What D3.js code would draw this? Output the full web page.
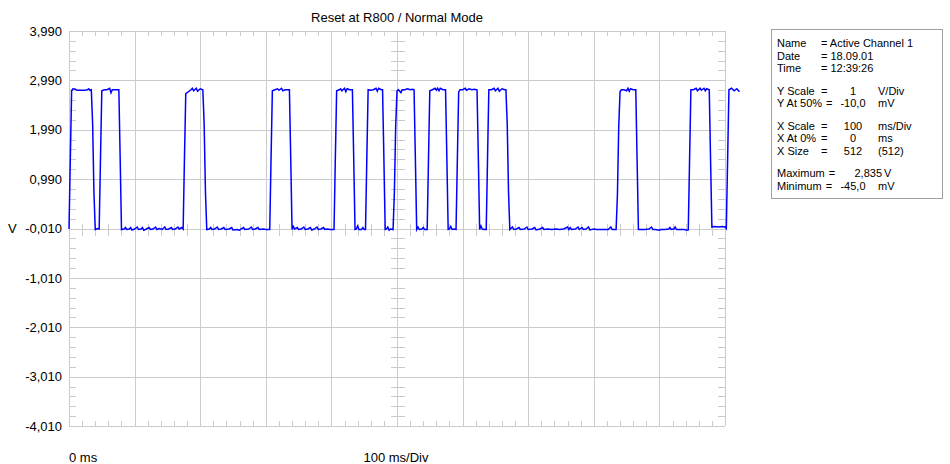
<!DOCTYPE html>
<html>
<head>
<meta charset="utf-8">
<script src="https://cdn.jsdelivr.net/npm/d3@7"></script>
<style>
  body { margin: 0; background: #fff; }
  text { font-family: "Liberation Sans", Arial, sans-serif; font-size: 13px; fill: #000; }
  .info text { font-size: 11px; }
</style>
</head>
<body>
<div id="chart"></div>
<script>
var title = "Reset at R800 / Normal Mode";
var yTicks = [3.99, 2.99, 1.99, 0.99, -0.01, -1.01, -2.01, -3.01, -4.01];
var xTicks = [0, 100, 200, 300, 400, 500, 600, 700, 800, 900, 1000];
var xLeftLabel = "0 ms";
var xMidLabel = "100 ms/Div";
var yUnit = "V";

// [ms, V]
var trace = [
  [0,-0.02],[2,1.40],[4,2.78],[6,2.82],[10,2.81],[12,2.79],[18,2.79],[24,2.79],[28,2.80],[30,2.82],[32,2.79],[34,2.80],[36,2.12],[38,0.73],[40,-0.03],[42,-0.02],[44,-0.01],[46,-0.02],
  [48,1.41],[50,2.78],[54,2.80],[58,2.80],[62,2.83],[64,2.74],[66,2.80],[72,2.80],[76,2.80],[78,1.41],[80,-0.03],
  [84,-0.02],[86,0.01],[88,-0.03],[92,-0.02],[94,0.01],[96,-0.04],[100,-0.02],[104,0.02],[106,-0.03],[110,-0.02],[112,0.01],[114,-0.045],[118,-0.02],[122,0.01],[124,-0.03],[128,-0.02],[132,0.02],[134,-0.03],[138,-0.01],[142,-0.03],[146,0.02],[148,-0.03],[152,-0.02],[156,0.01],[158,-0.03],[162,-0.02],[166,0.02],[168,-0.02],[172,0.01],[174,-0.02],
  [176,1.41],[178,2.72],[182,2.76],[186,2.80],[188,2.83],[190,2.78],[194,2.83],[196,2.77],[200,2.82],[204,2.80],[206,2.12],[208,0.73],[210,-0.03],
  [214,-0.02],[216,0.01],[218,-0.03],[222,-0.02],[226,0.02],[228,-0.03],[232,-0.02],[236,0.01],[238,-0.03],[244,-0.02],[248,0.01],[250,-0.04],[256,-0.03],[260,-0.045],[262,-0.02],[266,0.01],[268,-0.03],[274,-0.02],[278,0.02],[280,-0.03],[284,-0.02],[288,0.01],[290,-0.03],[296,-0.02],[300,-0.03],[306,-0.03],
  [308,1.41],[310,2.78],[314,2.80],[318,2.82],[320,2.79],[324,2.83],[326,2.78],[330,2.80],[336,2.80],[338,1.41],[340,-0.03],
  [342,0.03],[344,-0.02],[348,0.01],[350,-0.03],[354,-0.02],[358,0.02],[360,-0.03],[364,-0.02],[368,0.01],[370,-0.04],[374,-0.02],[378,0.02],[380,-0.03],[384,-0.02],[388,0.01],[390,-0.03],[394,-0.02],[398,-0.03],[404,-0.03],
  [406,1.41],[408,2.78],[412,2.80],[414,2.82],[416,2.78],[420,2.83],[422,2.76],[424,2.82],[428,2.80],[432,2.80],[434,1.41],[436,-0.03],
  [438,-0.02],[440,0.04],[442,-0.03],[446,-0.03],[448,0.01],[450,-0.03],[452,-0.03],
  [454,1.41],[456,2.80],[460,2.79],[464,2.80],[468,2.83],[470,2.77],[472,2.83],[476,2.80],[478,2.80],[480,1.41],[482,-0.03],
  [484,-0.02],[486,0.02],[488,-0.045],[490,-0.02],[494,-0.03],
  [496,0.73],[498,2.06],[500,2.77],[502,2.80],[506,2.74],[508,2.80],[512,2.80],[516,2.82],[520,2.80],[524,2.81],[526,2.80],[528,1.41],[530,-0.03],
  [532,0.02],[534,-0.03],[538,-0.02],[540,0.01],[542,-0.03],[546,-0.03],
  [548,1.39],[550,2.78],[554,2.80],[558,2.83],[560,2.79],[562,2.83],[564,2.78],[566,2.83],[570,2.80],[574,2.80],[576,1.41],[578,-0.03],
  [580,-0.02],[582,0.03],[584,-0.03],[588,-0.02],[590,-0.03],
  [592,1.39],[594,2.75],[596,2.80],[600,2.80],[604,2.83],[606,2.79],[610,2.82],[614,2.80],[618,2.81],[622,2.80],[624,1.41],[626,-0.03],[628,0.04],[630,-0.02],[634,-0.03],[636,-0.03],
  [638,1.41],[640,2.80],[644,2.80],[648,2.83],[650,2.78],[654,2.83],[656,2.77],[660,2.82],[664,2.80],[666,2.80],[668,2.12],[670,0.73],[672,-0.03],
  [676,0.02],[678,-0.03],[682,-0.02],[686,0.01],[688,-0.03],[694,-0.02],[698,0.02],[700,-0.03],[706,-0.02],[710,0.01],[712,-0.04],[718,-0.02],[722,0.01],[724,-0.03],[730,-0.02],[736,-0.03],[742,-0.02],[748,-0.03],[754,-0.02],[760,0.02],[762,-0.03],[764,0.01],[766,-0.03],[772,-0.02],[776,0.02],[778,-0.03],[782,0.01],[784,-0.03],[788,-0.02],[792,0.02],[794,-0.04],[800,-0.02],[804,-0.03],[810,-0.03],[816,-0.03],[822,-0.03],[826,0.02],[828,-0.03],[834,-0.03],
  [836,0.67],[838,2.05],[840,2.76],[842,2.80],[846,2.80],[850,2.78],[852,2.83],[854,2.77],[856,2.82],[860,2.80],[864,2.80],[866,1.38],[868,-0.03],
  [872,-0.03],[878,-0.03],[884,-0.02],[888,0.02],[890,-0.03],[894,-0.03],[900,-0.045],[902,-0.03],[908,-0.03],[914,-0.02],[916,0.01],[918,-0.03],[922,-0.02],[924,0.02],[926,-0.03],[932,-0.03],[938,-0.03],[942,-0.045],[944,-0.04],
  [946,1.38],[948,2.80],[952,2.80],[956,2.83],[958,2.78],[962,2.83],[964,2.79],[968,2.83],[970,2.78],[972,2.82],[976,2.80],[978,1.38],[980,0.02],
  [984,0.03],[990,0.02],[996,0.03],[1000,0.02],[1002,-0.01],
  [1004,1.39],[1006,2.80],[1010,2.83],[1014,2.78],[1018,2.82],[1022,2.76]
];

var infoLabels = ["Name", "Date", "Time", "Y Scale", "Y At 50%", "X Scale", "X At 0%", "X Size", "Maximum", "Minimum"];
var infoValues = ["Active Channel 1", "18.09.01", "12:39:26", "1", "-10,0", "100", "0", "512", "2,835", "-45,0"];
var infoUnits = ["", "", "", "V/Div", "mV", "ms/Div", "ms", "(512)", "V", "mV"];
var infoGroups = [0, 0, 0, 1, 1, 2, 2, 2, 3, 3];

function init()
{
    var w = 950, h = 464;
    var left = 69, right = 725, top = 31, bottom = 426;
    var gridColor = "#cbcbcb";

    var svg = d3.select("#chart").append("svg")
                .attr("width", w)
                .attr("height", h);

    var x = d3.scaleLinear().domain([0, 1000]).range([left, right]);
    var y = d3.scaleLinear().domain([-4.01, 3.99]).range([bottom, top]);

    // grid lines
    var grid = svg.append("g").attr("shape-rendering", "crispEdges");
    grid.selectAll("line.gx")
        .data(xTicks)
        .enter().append("line")
        .attr("x1", function(d) { return Math.round(x(d)) + 0.5; })
        .attr("x2", function(d) { return Math.round(x(d)) + 0.5; })
        .attr("y1", top).attr("y2", bottom)
        .attr("stroke", gridColor);
    grid.selectAll("line.gy")
        .data(yTicks)
        .enter().append("line")
        .attr("y1", function(d) { return Math.round(y(d)) + 0.5; })
        .attr("y2", function(d) { return Math.round(y(d)) + 0.5; })
        .attr("x1", left).attr("x2", right)
        .attr("stroke", gridColor);

    // minor ticks, 5 per division
    var minorX = d3.range(0, 1001, 20).filter(function(d) { return d % 100 !== 0; });
    var minorY = d3.range(0, 41).map(function(i) { return -4.01 + i * 0.2; })
                   .filter(function(d, i) { return i % 5 !== 0; });
    var cx = Math.round(x(500)) + 0.5, cy = Math.round(y(-0.01)) + 0.5;

    function hTicks(x1, x2) {
        grid.append("g").selectAll("line")
            .data(minorY).enter().append("line")
            .attr("x1", x1).attr("x2", x2)
            .attr("y1", function(d) { return Math.round(y(d)) + 0.5; })
            .attr("y2", function(d) { return Math.round(y(d)) + 0.5; })
            .attr("stroke", gridColor);
    }
    function vTicks(y1, y2) {
        grid.append("g").selectAll("line")
            .data(minorX).enter().append("line")
            .attr("y1", y1).attr("y2", y2)
            .attr("x1", function(d) { return Math.round(x(d)) + 0.5; })
            .attr("x2", function(d) { return Math.round(x(d)) + 0.5; })
            .attr("stroke", gridColor);
    }
    hTicks(left, left + 7);
    hTicks(right - 7, right);
    hTicks(cx - 7, cx + 7);
    vTicks(top, top + 5);
    vTicks(bottom - 5, bottom);
    vTicks(cy - 6, cy + 6);

    // y labels
    var fmt = function(d) { return d3.format(".3f")(d).replace(".", ",").replace("\u2212", "-"); };
    var yAxis = d3.axisLeft(y).tickValues(yTicks).tickSize(0).tickPadding(7).tickFormat(fmt);
    var ga = svg.append("g").attr("transform", "translate(" + left + ",0)").call(yAxis);
    ga.select(".domain").remove();
    ga.selectAll("text").style("font-family", "'Liberation Sans', Arial, sans-serif").style("font-size", "13px");

    svg.append("text").attr("x", 8).attr("y", y(-0.01)).attr("dy", "0.35em").text(yUnit);

    // trace
    var line = d3.line()
        .x(function(d) { return x(d[0]); })
        .y(function(d) { return y(d[1]); });
    svg.append("path")
        .datum(trace)
        .attr("d", line)
        .attr("fill", "none")
        .attr("stroke", "#0000ff")
        .attr("stroke-width", 1.5)
        .attr("stroke-linejoin", "miter");

    // title and bottom labels
    svg.append("text").attr("x", 397).attr("y", 22).attr("text-anchor", "middle").text(title);
    svg.append("text").attr("x", left).attr("y", 462).text(xLeftLabel);
    svg.append("text").attr("x", 396).attr("y", 462).attr("text-anchor", "middle").text(xMidLabel);

    // info box
    svg.append("rect")
        .attr("x", 771.5).attr("y", 29.5)
        .attr("width", 171).attr("height", 169)
        .attr("fill", "#fff")
        .attr("stroke", "#a0a0a0")
        .attr("shape-rendering", "crispEdges");

    var info = svg.append("g").attr("class", "info");
    infoLabels.forEach(function(lab, i) {
        var yy = 43.5 + i * 12.5 + infoGroups[i] * 10;
        var row = info.append("g").attr("transform", "translate(0," + yy + ")");
        var lt = row.append("text").attr("x", 777).attr("dy", "0.35em").text(lab);
        var eqX = Math.max(821, 777 + lt.node().getComputedTextLength() + 4);
        if (infoGroups[i] === 0) {
            row.append("text").attr("x", eqX).attr("dy", "0.35em").text("= " + infoValues[i]);
        } else {
            row.append("text").attr("x", eqX).attr("dy", "0.35em").text("=");
            row.append("text")
                .attr("x", i === 8 ? 882 : 853)
                .attr("text-anchor", i === 8 ? "end" : "middle")
                .attr("dy", "0.35em").text(infoValues[i]);
            row.append("text").attr("x", i === 8 ? 884 : 878).attr("dy", "0.35em").text(infoUnits[i]);
        }
    });
}
window.onload = init;
</script>
</body>
</html>
